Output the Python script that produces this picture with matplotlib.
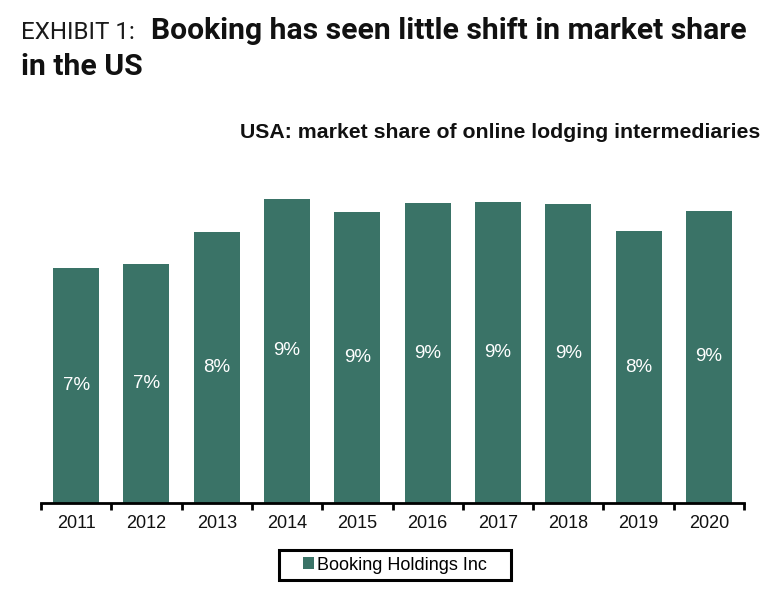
import numpy as np
import matplotlib
matplotlib.use('Agg')
import matplotlib.pyplot as plt
from matplotlib import font_manager as fm
from matplotlib.patches import Patch, Rectangle

years = ['2011', '2012', '2013', '2014', '2015', '2016', '2017', '2018', '2019', '2020']
share = [7.25, 7.37, 8.36, 9.40, 8.99, 9.26, 9.30, 9.24, 8.40, 9.03]
bar_labels = ['7%', '7%', '8%', '9%', '9%', '9%', '9%', '9%', '8%', '9%']
series_name = 'Booking Holdings Inc'
title_prefix = 'EXHIBIT 1:'
title_line1 = 'Booking has seen little shift in market share'
title_line2 = 'in the US'
subtitle = 'USA: market share of online lodging intermediaries'

available = {f.name for f in fm.fontManager.ttflist}
title_font = 'Roboto' if 'Roboto' in available else 'Liberation Sans'
sans = 'Liberation Sans'
bar_color = '#3a7367'

W, H = 768, 597
fig = plt.figure(figsize=(W / 100, H / 100), dpi=100)
fig.patch.set_facecolor('white')

ax = fig.add_axes([41 / W, 1 - 503 / H, 703 / W, (503 - 179.3) / H])
x = np.arange(len(years))
bars = ax.bar(x, share, width=0.655, color=bar_color, zorder=2)
ax.set_xlim(-0.5, len(years) - 0.5)
ax.set_ylim(0, 10)
for b, lab in zip(bars, bar_labels):
    ax.text(b.get_x() + b.get_width() / 2, b.get_height() / 2, lab,
            ha='center', va='center', color='white', fontsize=13.5, family=sans)

for s in ['top', 'right', 'left']:
    ax.spines[s].set_visible(False)
ax.spines['bottom'].set_linewidth(2)
ax.spines['bottom'].set_color('black')
ax.set_yticks([])
ax.set_xticks(x)
ax.set_xticklabels(years, fontsize=13, family=sans, color='#111111')
ax.tick_params(axis='x', which='major', length=0, pad=9)
ax.set_xticks(np.arange(-0.5, len(years), 1), minor=True)
ax.tick_params(axis='x', which='minor', length=5, width=2, direction='out', color='black')

leg = fig.legend(handles=[Patch(facecolor=bar_color, edgecolor='none')], labels=[series_name],
                 loc='center', bbox_to_anchor=(395 / W, 1 - 565 / H),
                 frameon=False, prop={'family': sans, 'size': 13},
                 handlelength=0.6, handleheight=0.6, handletextpad=0.2,
                 borderpad=0.2, borderaxespad=0)

# Titles
pre = fig.text(21 / W, 1 - 39 / H, title_prefix, fontsize=20, family=title_font,
               fontweight='normal', va='baseline', ha='left', color='#1a1a1a')
t1 = fig.text(152 / W, 1 - 39 / H, title_line1, fontsize=20, family=title_font,
              fontweight='bold', va='baseline', ha='left', color='#111111')
sub = fig.text(760 / W, 1 - 138 / H, subtitle, fontsize=15.3, family=sans,
               fontweight='bold', va='baseline', ha='right', color='#111111')
fig.canvas.draw()
r = fig.canvas.get_renderer()
# fit the prefix to its width in the reference
pw = pre.get_window_extent(r).width
pre.set_fontsize(20 * (135 - 21) / pw)
# fit the bold line between prefix and right edge
fig.canvas.draw()
pend = pre.get_window_extent(r).x1
start = pend + 16
t1.set_x(start / W)
wpx = t1.get_window_extent(r).width
fs = 20 * (745 - start) / wpx
t1.set_fontsize(fs)
fig.text(21 / W, 1 - 75 / H, title_line2, fontsize=fs, family=title_font,
         fontweight='bold', va='baseline', ha='left', color='#111111')

# legend frame
fig.canvas.draw()
bb = leg.get_window_extent(r)
padx, pady = 20, 3
fig.patches.append(Rectangle(((bb.x0 - padx) / W, (bb.y0 - pady) / H),
                             (bb.width + 2 * padx) / W, (bb.height + 2 * pady) / H,
                             transform=fig.transFigure, fill=False,
                             edgecolor='black', linewidth=2.2, figure=fig))

fig.savefig('out.png', dpi=100, facecolor='white')
